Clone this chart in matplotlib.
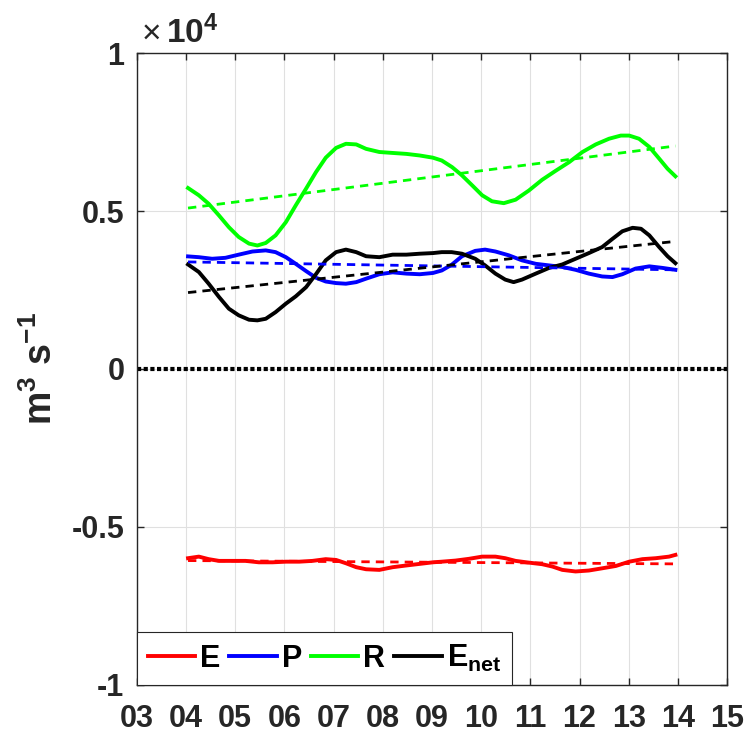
import matplotlib
matplotlib.use("Agg")
import matplotlib.pyplot as plt
import numpy as np

plt.rcParams['font.family'] = ['Liberation Sans', 'DejaVu Sans']
plt.rcParams['font.weight'] = 'bold'
plt.rcParams['mathtext.fontset'] = 'custom'
plt.rcParams['mathtext.rm'] = 'Liberation Sans:bold'
plt.rcParams['mathtext.bf'] = 'Liberation Sans:bold'
plt.rcParams['mathtext.it'] = 'Liberation Sans:bold'

# ---- data (year, m^3 s^-1) ----
R_t = [4.04, 4.26, 4.46, 4.67, 4.87, 5.07, 5.28, 5.45, 5.62, 5.82, 6.03, 6.23, 6.44, 6.64,
       6.84, 7.05, 7.25, 7.46, 7.66, 7.93, 8.20, 8.48, 8.75, 9.02, 9.20, 9.41, 9.61, 9.82,
       10.02, 10.22, 10.46, 10.70, 10.97, 11.24, 11.51, 11.79, 12.06, 12.33, 12.60, 12.84,
       13.01, 13.21, 13.42, 13.62, 13.79, 13.95]
R_v = [5730, 5500, 5230, 4860, 4490, 4180, 3970, 3910, 3990, 4230, 4650, 5180, 5710, 6230,
       6690, 7000, 7130, 7110, 6970, 6870, 6840, 6810, 6760, 6690, 6600, 6390, 6130, 5810,
       5500, 5310, 5250, 5360, 5650, 5990, 6270, 6550, 6870, 7110, 7290, 7390,
       7390, 7290, 7030, 6660, 6340, 6100]

P_t = [4.04, 4.26, 4.53, 4.80, 5.07, 5.35, 5.62, 5.82, 6.03, 6.23, 6.44, 6.64, 6.84, 7.05,
       7.25, 7.46, 7.66, 7.93, 8.20, 8.48, 8.75, 9.02, 9.20, 9.40, 9.61, 9.88, 10.08, 10.29,
       10.56, 10.83, 11.11, 11.38, 11.65, 11.92, 12.19, 12.46, 12.67, 12.87, 13.14, 13.42,
       13.69, 13.95]
P_v = [3565, 3540, 3490, 3520, 3620, 3720, 3755, 3700, 3540, 3330, 3100, 2890, 2770, 2720,
       2700, 2750, 2860, 3000, 3060, 3020, 3000, 3040, 3120, 3300, 3570, 3740, 3780, 3720,
       3600, 3440, 3330, 3280, 3230, 3140, 3020, 2930, 2910, 3000, 3180, 3250,
       3200, 3140]

N_t = [4.04, 4.26, 4.46, 4.67, 4.87, 5.07, 5.28, 5.45, 5.62, 5.82, 6.03, 6.23, 6.44, 6.64,
       6.84, 7.05, 7.25, 7.46, 7.66, 7.93, 8.20, 8.48, 8.75, 9.02, 9.20, 9.40, 9.61, 9.88,
       10.08, 10.29, 10.49, 10.66, 10.83, 11.11, 11.38, 11.65, 11.92, 12.19, 12.46, 12.67,
       12.87, 13.08, 13.25, 13.42, 13.62, 13.79, 13.95]
N_v = [3310, 3070, 2700, 2280, 1910, 1700, 1560, 1540, 1590, 1800, 2070, 2300, 2590, 3000,
       3440, 3700, 3780, 3700, 3570, 3540, 3620, 3620, 3650, 3670, 3700, 3700, 3650, 3490,
       3280, 3020, 2830, 2750, 2830, 3020, 3200, 3310, 3490, 3670, 3860, 4120,
       4360, 4470, 4440, 4230, 3860, 3570, 3350]

E_t = [4.04, 4.26, 4.46, 4.67, 4.94, 5.21, 5.48, 5.76, 6.03, 6.30, 6.57, 6.84, 7.05, 7.25,
       7.46, 7.66, 7.93, 8.20, 8.48, 8.75, 9.02, 9.20, 9.48, 9.75, 10.02, 10.29, 10.49, 10.70,
       10.97, 11.24, 11.45, 11.65, 11.92, 12.19, 12.46, 12.74, 13.01, 13.28, 13.55, 13.82,
       13.95]
E_v = [-5990, -5940, -6020, -6075, -6075, -6075, -6120, -6120, -6100, -6100, -6075, -6020,
       -6045, -6150, -6275, -6340, -6360, -6275, -6220, -6170, -6120, -6100, -6065, -6010,
       -5940, -5940, -5990, -6075, -6130, -6180, -6255, -6360, -6410, -6380, -6310, -6235,
       -6100, -6020, -5990, -5940, -5885]

trend_t = [4.04, 13.95]
R_trend = [5095, 7060]
P_trend = [3390, 3140]
N_trend = [2420, 4040]
E_trend = [-6065, -6170]

xticks = list(range(3, 16))
xticklabels = ['%02d' % v for v in xticks]
yticks = [-10000, -5000, 0, 5000, 10000]
yticklabels = ['-1', '-0.5', '0', '0.5', '1']

fig = plt.figure(figsize=(7.48, 7.38), dpi=100)
ax = fig.add_axes([0.183, 0.072, 0.789, 0.856])

lw = 2.8
lE, = ax.plot(E_t, E_v, color=(1, 0, 0), lw=lw, label='E', solid_joinstyle='round')
lP, = ax.plot(P_t, P_v, color=(0, 0, 1), lw=lw, label='P', solid_joinstyle='round')
lR, = ax.plot(R_t, R_v, color=(0, 1, 0), lw=lw, label='R', solid_joinstyle='round')
lN, = ax.plot(N_t, N_v, color='k', lw=lw, label=r'$\mathbf{E_{net}}$', solid_joinstyle='round')

dl = 2.0
dash = (0, (3, 2.2))
ax.plot(trend_t, E_trend, color=(1, 0, 0), lw=dl, ls=dash)
ax.plot(trend_t, P_trend, color=(0, 0, 1), lw=dl, ls=dash)
ax.plot(trend_t, R_trend, color=(0, 1, 0), lw=dl, ls=dash)
ax.plot(trend_t, N_trend, color='k', lw=dl, ls=dash)

ax.axhline(0, color='k', lw=3, ls=(0, (1, 0.6)))

ax.set_xlim(3, 15)
ax.set_ylim(-10000, 10000)
ax.set_xticks(xticks)
ax.set_xticklabels(xticklabels)
ax.set_yticks(yticks)
ax.set_yticklabels(yticklabels)
ax.tick_params(direction='in', top=True, right=True, length=5, width=1,
               labelsize=22, color='#262626', labelcolor='#262626')
ax.tick_params(axis='x', pad=14)
ax.tick_params(axis='y', pad=9)
for lab in ax.get_xticklabels() + ax.get_yticklabels():
    lab.set_fontweight('bold')
ax.grid(True, color='#e0e0e0', lw=0.8)
ax.set_axisbelow(True)
for sp in ax.spines.values():
    sp.set_color('#262626')
    sp.set_linewidth(1.0)

ax.set_ylabel(r'$\mathbf{m^{3}\ s^{-1}}$', fontsize=27, color='#262626', labelpad=8)

fig.text(0.189, 0.942, '\u00d7', fontsize=24, fontweight='normal', color='#262626',
         ha='left', va='baseline')
fig.text(0.222, 0.942, r'$\mathbf{10^{4}}$', fontsize=24, color='#262626',
         ha='left', va='baseline')

leg = ax.legend(handles=[lE, lP, lR, lN], loc='lower left', ncol=4,
                bbox_to_anchor=(0, 0), borderaxespad=0, fancybox=False,
                edgecolor='#262626', framealpha=1, handlelength=1.55,
                handletextpad=0.16, columnspacing=0.3, borderpad=0.35,
                prop={'weight': 'bold', 'size': 22})
leg.get_frame().set_linewidth(0.8)

fig.savefig('out.png', dpi=100)
